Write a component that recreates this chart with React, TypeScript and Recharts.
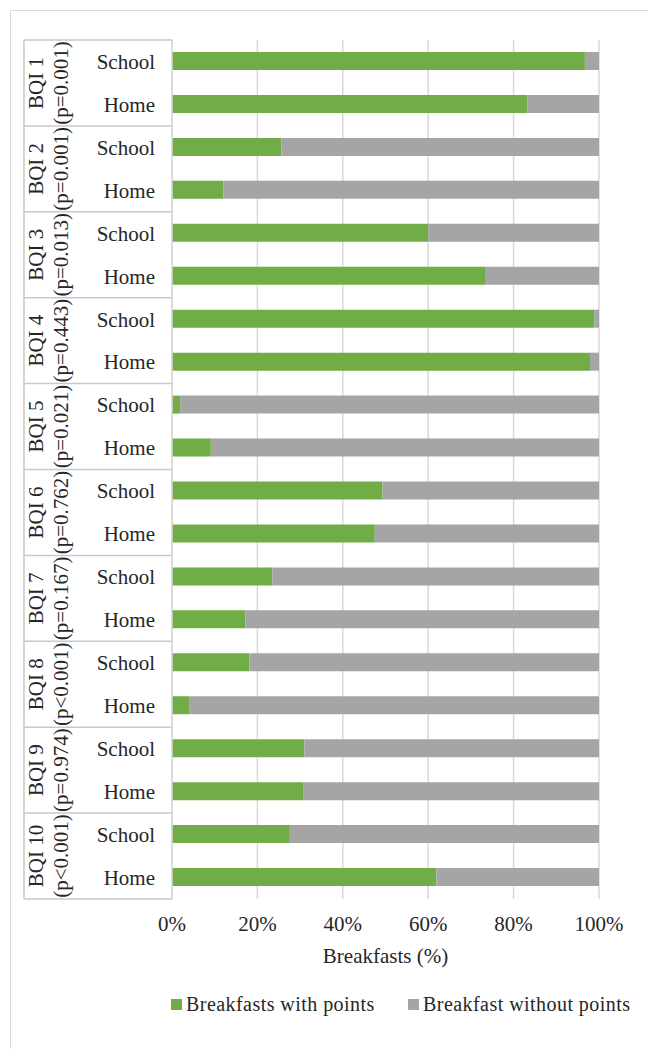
import React from 'react';
import { BarChart, Bar, XAxis, YAxis, CartesianGrid, Legend, Label } from 'recharts';

// ---- data ----
const groups = ['BQI 1', 'BQI 2', 'BQI 3', 'BQI 4', 'BQI 5', 'BQI 6', 'BQI 7', 'BQI 8', 'BQI 9', 'BQI 10'];
const pValues = ['(p=0.001)', '(p=0.001)', '(p=0.013)', '(p=0.443)', '(p=0.021)', '(p=0.762)', '(p=0.167)', '(p<0.001)', '(p=0.974)', '(p<0.001)'];
const places = ['School', 'Home'];
const withPoints = [96.7, 83.2, 25.6, 12.0, 60.0, 73.3, 98.9, 97.9, 1.9, 9.1, 49.3, 47.5, 23.5, 17.2, 18.1, 4.0, 31.0, 30.7, 27.6, 61.9];
const withoutPoints = [3.3, 16.8, 74.4, 88.0, 40.0, 26.7, 1.1, 2.1, 98.1, 90.9, 50.7, 52.5, 76.5, 82.8, 81.9, 96.0, 69.0, 69.3, 72.4, 38.1];
const xTicks = [0, 20, 40, 60, 80, 100];
const seriesNames = ['Breakfasts with points', 'Breakfast without points'];

// ---- layout / style ----
const W = 648;
const H = 1049;
const TOP = 40;
const AXIS_X = 172;
const X_AXIS_H = 70;
const LEGEND_H = 80;
const PLOT_BOTTOM = H - X_AXIS_H - LEGEND_H;
const ROW = (PLOT_BOTTOM - TOP) / withPoints.length;
const GREEN = '#70ad47';
const GRAY = '#a5a5a5';
const FONT = "Liberation Serif, 'DejaVu Serif', serif";
const TEXT = '#262626';
const LINE = '#c9c9c9';

const data = withPoints.map((v, i) => ({
  key: `${groups[Math.floor(i / 2)]} ${places[i % 2]}`,
  place: places[i % 2],
  withPts: v,
  withoutPts: withoutPoints[i],
}));

function CategoryTick(props: any) {
  const { y, index } = props;
  const half = ROW / 2;
  const els: any[] = [
    <text key="t" x={AXIS_X - 17} y={y} dy="0.35em" textAnchor="end" style={{ fontFamily: FONT, fontSize: 21 }} fill={TEXT}>
      {places[index % 2]}
    </text>,
  ];
  if (index % 2 === 0) {
    const g = index / 2;
    const top = y - half;
    const bottom = y + 3 * half;
    const mid = y + half;
    els.push(<line key="top" x1={24} x2={AXIS_X} y1={top} y2={top} stroke={LINE} strokeWidth={1.5} />);
    els.push(<line key="left" x1={24} x2={24} y1={top} y2={bottom} stroke={LINE} strokeWidth={1.5} />);
    if (g === groups.length - 1) {
      els.push(<line key="bot" x1={24} x2={AXIS_X} y1={bottom} y2={bottom} stroke={LINE} strokeWidth={1.5} />);
    }
    els.push(
      <text key="g" transform={`translate(43, ${mid}) rotate(-90)`} textAnchor="middle" style={{ fontFamily: FONT, fontSize: 21 }} fill={TEXT}>
        {groups[g]}
      </text>
    );
    els.push(
      <text key="p" transform={`translate(68, ${mid}) rotate(-90)`} textAnchor="middle" style={{ fontFamily: FONT, fontSize: 21 }} fill={TEXT}>
        {pValues[g]}
      </text>
    );
  }
  return <g>{els}</g>;
}

function renderLegend() {
  const item = (left: number, color: string, label: string) => (
    <div
      style={{
        position: 'absolute',
        left,
        top: 23,
        height: 24,
        display: 'flex',
        alignItems: 'center',
        whiteSpace: 'nowrap',
      }}
    >
      <span style={{ display: 'inline-block', width: 11, height: 11, background: color, marginRight: 4 }} />
      <span>{label}</span>
    </div>
  );
  return (
    <div style={{ position: 'relative', width: W, height: LEGEND_H, fontFamily: FONT, fontSize: 20, color: TEXT, letterSpacing: '0.45px' }}>
      {item(171, GREEN, seriesNames[0])}
      {item(408, GRAY, seriesNames[1])}
    </div>
  );
}

export default function App() {
  return (
    <div style={{ position: 'absolute', left: 0, top: 0, width: W, height: H, overflow: 'hidden', background: '#fff', fontFamily: FONT }}>
      <div
        style={{
          position: 'absolute',
          left: 10,
          top: 10,
          width: 700,
          height: 1100,
          border: '1.5px solid #d9d9d9',
        }}
      />
      <div style={{ position: 'absolute', left: 0, top: 0 }}>
        <BarChart
          width={W}
          height={H}
          data={data}
          layout="vertical"
          margin={{ top: TOP, right: 49, bottom: 0, left: 0 }}
          barSize={18}
          style={{ fontFamily: FONT }}
        >
          <CartesianGrid horizontal={false} vertical={true} stroke="#d9d9d9" strokeWidth={1.5} />
          <XAxis
            type="number"
            domain={[0, 100]}
            ticks={xTicks}
            tickFormatter={(v: number) => `${v}%`}
            axisLine={false}
            tickLine={false}
            tickMargin={11}
            height={X_AXIS_H}
            tick={{ fontSize: 21, fill: TEXT, style: { fontFamily: FONT } }}
          >
            <Label
              value="Breakfasts (%)"
              position="insideBottom"
              offset={6}
              style={{ fontFamily: FONT, fontSize: 21, fill: TEXT }}
            />
          </XAxis>
          <YAxis
            type="category"
            dataKey="key"
            width={AXIS_X}
            interval={0}
            tickLine={false}
            axisLine={{ stroke: '#d9d9d9', strokeWidth: 1.5 }}
            tick={(p: any) => <CategoryTick {...p} />}
          />
          <Legend verticalAlign="bottom" align="left" wrapperStyle={{ height: LEGEND_H, left: 0, width: W }} content={renderLegend} />
          <Bar dataKey="withPts" name={seriesNames[0]} stackId="a" fill={GREEN} isAnimationActive={false} />
          <Bar dataKey="withoutPts" name={seriesNames[1]} stackId="a" fill={GRAY} isAnimationActive={false} />
        </BarChart>
      </div>
    </div>
  );
}
